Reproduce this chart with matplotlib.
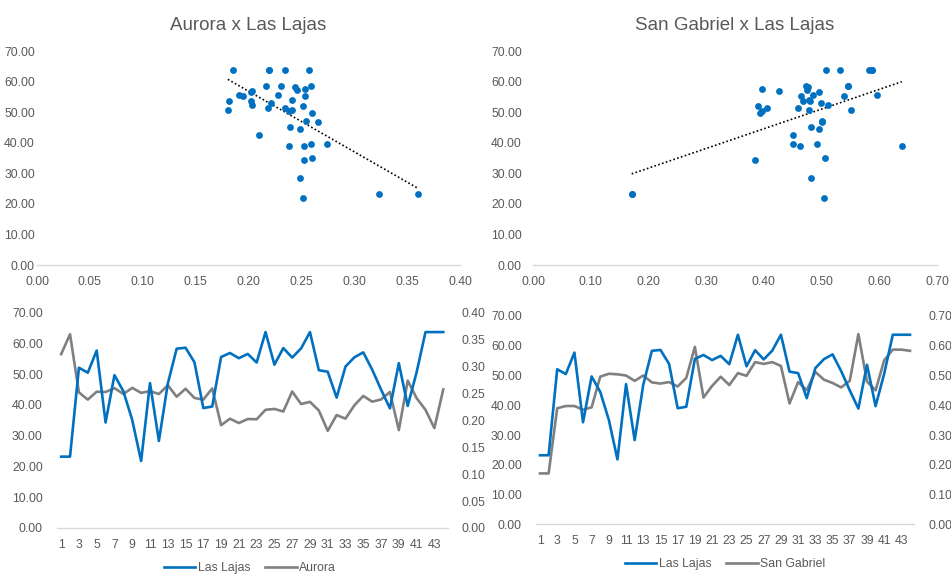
import numpy as np
import matplotlib
matplotlib.use("Agg")
import matplotlib.pyplot as plt

plt.rcParams["font.family"] = ["Liberation Sans", "DejaVu Sans"]

# weekly series
periods = list(range(1, 45))

las_lajas = [23.2, 23.2, 52.1, 50.5, 57.7, 34.3, 49.7, 44.5, 35.1, 21.8,
             47.1, 28.3, 46.9, 58.3, 58.6, 53.9, 39.0, 39.5, 55.6, 56.9,
             55.2, 56.6, 53.8, 63.7, 53.1, 58.5, 55.4, 58.4, 63.7, 51.3,
             50.8, 42.4, 52.5, 55.5, 57.1, 51.5, 45.0, 38.9, 53.6, 39.7,
             50.6, 63.7, 63.7, 63.7]

aurora = [0.323, 0.360, 0.252, 0.2385, 0.2533, 0.2527, 0.2599, 0.249, 0.2603, 0.2511,
          0.2543, 0.2489, 0.2653, 0.2439, 0.2587, 0.2416, 0.2385, 0.2593, 0.191, 0.203,
          0.195, 0.2025, 0.202, 0.2196, 0.2212, 0.2164, 0.2536, 0.2303, 0.2344, 0.2183,
          0.1805, 0.2098, 0.2032, 0.228, 0.2454, 0.2347, 0.2388, 0.2527, 0.1818, 0.2738,
          0.2413, 0.2196, 0.1856, 0.2574]

san_gabriel = [0.171, 0.171, 0.390, 0.3975, 0.3975, 0.385, 0.393, 0.496, 0.506, 0.504,
               0.500, 0.482, 0.500, 0.477, 0.473, 0.478, 0.463, 0.492, 0.596, 0.426,
               0.465, 0.496, 0.468, 0.508, 0.499, 0.545, 0.539, 0.545, 0.532, 0.406,
               0.478, 0.451, 0.512, 0.486, 0.475, 0.460, 0.482, 0.639, 0.480, 0.450,
               0.551, 0.587, 0.587, 0.583]

BLUE = "#0070C0"
GRAY = "#808080"
TXT = "#595959"
AXIS = "#D9D9D9"

W, H = 951, 574


def box(l, t, r, b):
    return [l / W, 1 - b / H, (r - l) / W, (b - t) / H]


def clean(ax):
    for s in ["top", "right", "left"]:
        ax.spines[s].set_visible(False)
    ax.spines["bottom"].set_color(AXIS)
    ax.spines["bottom"].set_linewidth(1)
    ax.tick_params(length=0, colors=TXT, labelsize=8.8)


fig = plt.figure(figsize=(W / 100, H / 100), dpi=100)

# SCATTER PANELS

def scatter_panel(rect, x, title, xmax, xstep, ypad):
    ax = fig.add_axes(box(*rect))
    clean(ax)
    ax.scatter(x, las_lajas, s=24, color=BLUE, zorder=3, linewidths=0)
    m, c = np.polyfit(x, las_lajas, 1)
    xs = np.array([min(x), max(x)])
    ax.plot(xs, m * xs + c, color="black", lw=1.2, ls=(0, (1, 1.4)), zorder=2)
    ax.set_xlim(0, xmax)
    ax.set_ylim(0, 70)
    ax.set_xticks(np.arange(0, xmax + 1e-9, xstep))
    ax.set_yticks(np.arange(0, 71, 10))
    ax.xaxis.set_major_formatter(lambda v, p: f"{v:.2f}")
    ax.yaxis.set_major_formatter(lambda v, p: f"{v:.2f}")
    ax.tick_params(axis="x", pad=8)
    ax.tick_params(axis="y", pad=ypad)
    fig.text((rect[0] + rect[2]) / 2 / W, 1 - 25 / H, title, ha="center",
             va="center", fontsize=13.5, color=TXT)
    return ax


scatter_panel((37, 51, 460, 265), aurora, "Aurora x Las Lajas", 0.40, 0.05, 1.5)
scatter_panel((533, 51, 937, 265), san_gabriel, "San Gabriel x Las Lajas", 0.70, 0.10, 8)

# LINE PANELS

def line_panel(rect, other, other_name, rmax, legend_xy):
    ax = fig.add_axes(box(*rect))
    clean(ax)
    ax2 = ax.twinx()
    for s in ["top", "right", "left", "bottom"]:
        ax2.spines[s].set_visible(False)
    ax2.tick_params(length=0, colors=TXT, labelsize=8.8, pad=10)

    l1, = ax.plot(periods, las_lajas, color=BLUE, lw=1.9, zorder=3)
    l2, = ax2.plot(periods, other, color=GRAY, lw=1.9, zorder=2)
    ax.set_zorder(ax2.get_zorder() + 1)
    ax.patch.set_visible(False)

    ax.set_xlim(0.5, 44.5)
    ax.set_ylim(0, 70)
    ax2.set_ylim(0, rmax)
    ax.set_xticks(periods[::2])
    ax.set_yticks(np.arange(0, 71, 10))
    ax2.set_yticks(np.linspace(0, rmax, 8 if rmax > 0.5 else 9))
    ax.yaxis.set_major_formatter(lambda v, p: f"{v:.2f}")
    ax2.yaxis.set_major_formatter(lambda v, p: f"{v:.2f}")
    ax.tick_params(axis="x", pad=8)
    ax.tick_params(axis="y", pad=10)

    fig.legend([l1, l2], ["Las Lajas", other_name], loc="center",
               bbox_to_anchor=(legend_xy[0] / W, 1 - legend_xy[1] / H),
               ncol=2, frameon=False, fontsize=8.8, labelcolor=TXT,
               handlelength=2.6, handletextpad=0.2, columnspacing=1.2)
    return ax


line_panel((56.7, 312.7, 447.7, 528), aurora, "Aurora", 0.40, (250, 568))
line_panel((535.7, 316, 914.3, 524.3), san_gabriel, "San Gabriel", 0.70, (725, 564))

fig.savefig("out.png", dpi=100)
